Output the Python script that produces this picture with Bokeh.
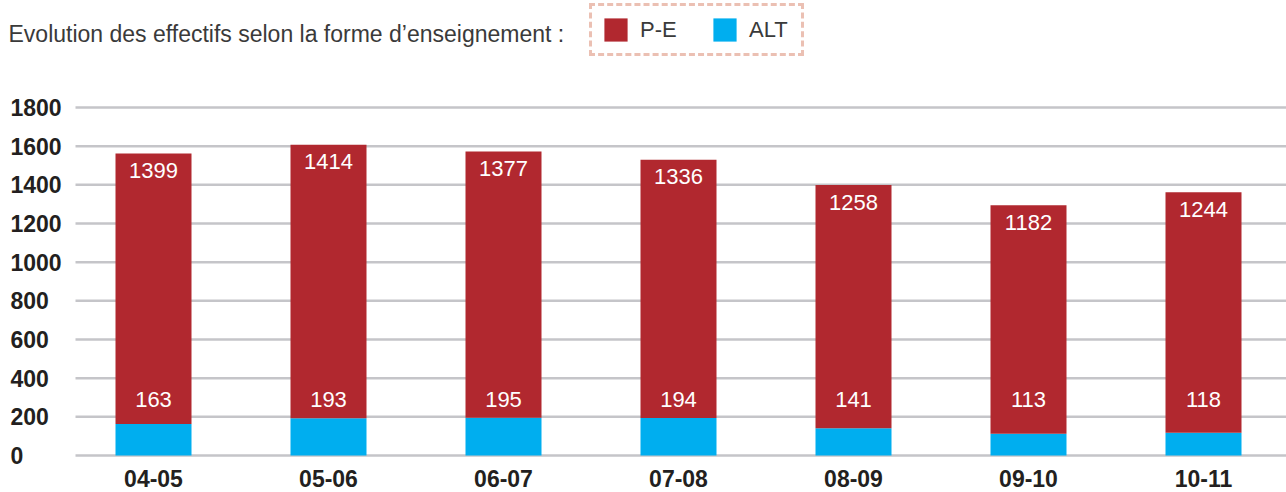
from bokeh.plotting import figure
from bokeh.models import ColumnDataSource, Legend, LegendItem, Label, Range1d
from bokeh.core.properties import value
from bokeh.embed import file_html
from bokeh.resources import INLINE

# ---- data ----
categories = ["04-05", "05-06", "06-07", "07-08", "08-09", "09-10", "10-11"]
pe = [1399, 1414, 1377, 1336, 1258, 1182, 1244]
alt = [163, 193, 195, 194, 141, 113, 118]
y_ticks = [0, 200, 400, 600, 800, 1000, 1200, 1400, 1600, 1800]
title_text = "Evolution des effectifs selon la forme d\u2019enseignement :"

# ---- styles ----
RED = "#b1282f"
BLUE = "#00aeef"
GRID = "#c5c5c9"
DARK = "#231f20"
TXT = "#3a3a3a"
FONT = "Liberation Sans"

W, H = 1286, 492
PX_X = 175.0                      # pixels per category
xs = -153 / PX_X
xe = xs + W / PX_X
y0_page, ytop_page = 455, 107
pxu = (y0_page - ytop_page) / 1800.0
ys = -(H - y0_page) / pxu
ye = y0_page / pxu

xpos = list(range(len(categories)))
total = [a + b for a, b in zip(pe, alt)]
src = ColumnDataSource(dict(
    x=xpos, cat=categories, pe=pe, alt=alt, total=total,
    pe_lbl=[str(v) for v in pe], alt_lbl=[str(v) for v in alt],
    zero=[0] * len(categories),
))

p = figure(width=W, height=H, x_range=Range1d(xs, xe), y_range=Range1d(ys, ye),
           output_backend="svg", toolbar_location=None,
           min_border_left=0, min_border_right=0, min_border_top=0, min_border_bottom=0)
p.outline_line_color = None
p.xgrid.visible = False
p.ygrid.visible = False
p.yaxis.visible = False
p.xaxis.visible = False

# gridlines from tick values
gx0 = xs + 75 / PX_X
p.segment(x0=[gx0] * len(y_ticks), x1=[xe] * len(y_ticks), y0=y_ticks, y1=y_ticks,
          line_color=GRID, line_width=2.5)

# y tick labels
p.text(x=[xs + 10 / PX_X] * len(y_ticks), y=y_ticks, text=[str(t) for t in y_ticks],
       text_align="left", text_baseline="middle", text_font=value(FONT),
       text_font_size="23px", text_font_style="bold", text_color=DARK)

# bars
r_alt, r_pe = p.vbar_stack(["alt", "pe"], x="x", width=76 / PX_X, color=[BLUE, RED],
                           line_color=None, source=src)

# value labels
p.text(x="x", y="total", text="pe_lbl", y_offset=17, text_align="center",
       text_baseline="middle", text_font=value(FONT), text_font_size="22px",
       text_color="white", source=src)
p.text(x="x", y="zero", text="alt_lbl", y_offset=-56, text_align="center",
       text_baseline="middle", text_font=value(FONT), text_font_size="22px",
       text_color="white", source=src)

# category labels (x axis)
p.text(x="x", y="zero", text="cat", y_offset=23, text_align="center",
       text_baseline="middle", text_font=value(FONT), text_font_size="23px",
       text_font_style="bold", text_color=DARK, source=src)

# title
p.add_layout(Label(x=8, y=H - 33, x_units="screen", y_units="screen",
                   text=title_text, text_baseline="middle", text_font=FONT,
                   text_font_size="23px", text_color=TXT))

# legend
legend = Legend(items=[LegendItem(label="P-E", renderers=[r_pe]),
                       LegendItem(label="ALT", renderers=[r_alt])],
                location=(589, H - 56), orientation="horizontal",
                glyph_width=29, glyph_height=29, label_standoff=10, spacing=27,
                padding=9, margin=0, label_text_font=FONT, label_text_font_size="22px",
                label_text_color=TXT, label_height=23, label_width=43,
                border_line_color="#d9826a", border_line_dash="0 8",
                border_line_cap="round", border_line_width=3,
                background_fill_alpha=0)
p.add_layout(legend)

open("out.html", "w").write(file_html(p, INLINE))
